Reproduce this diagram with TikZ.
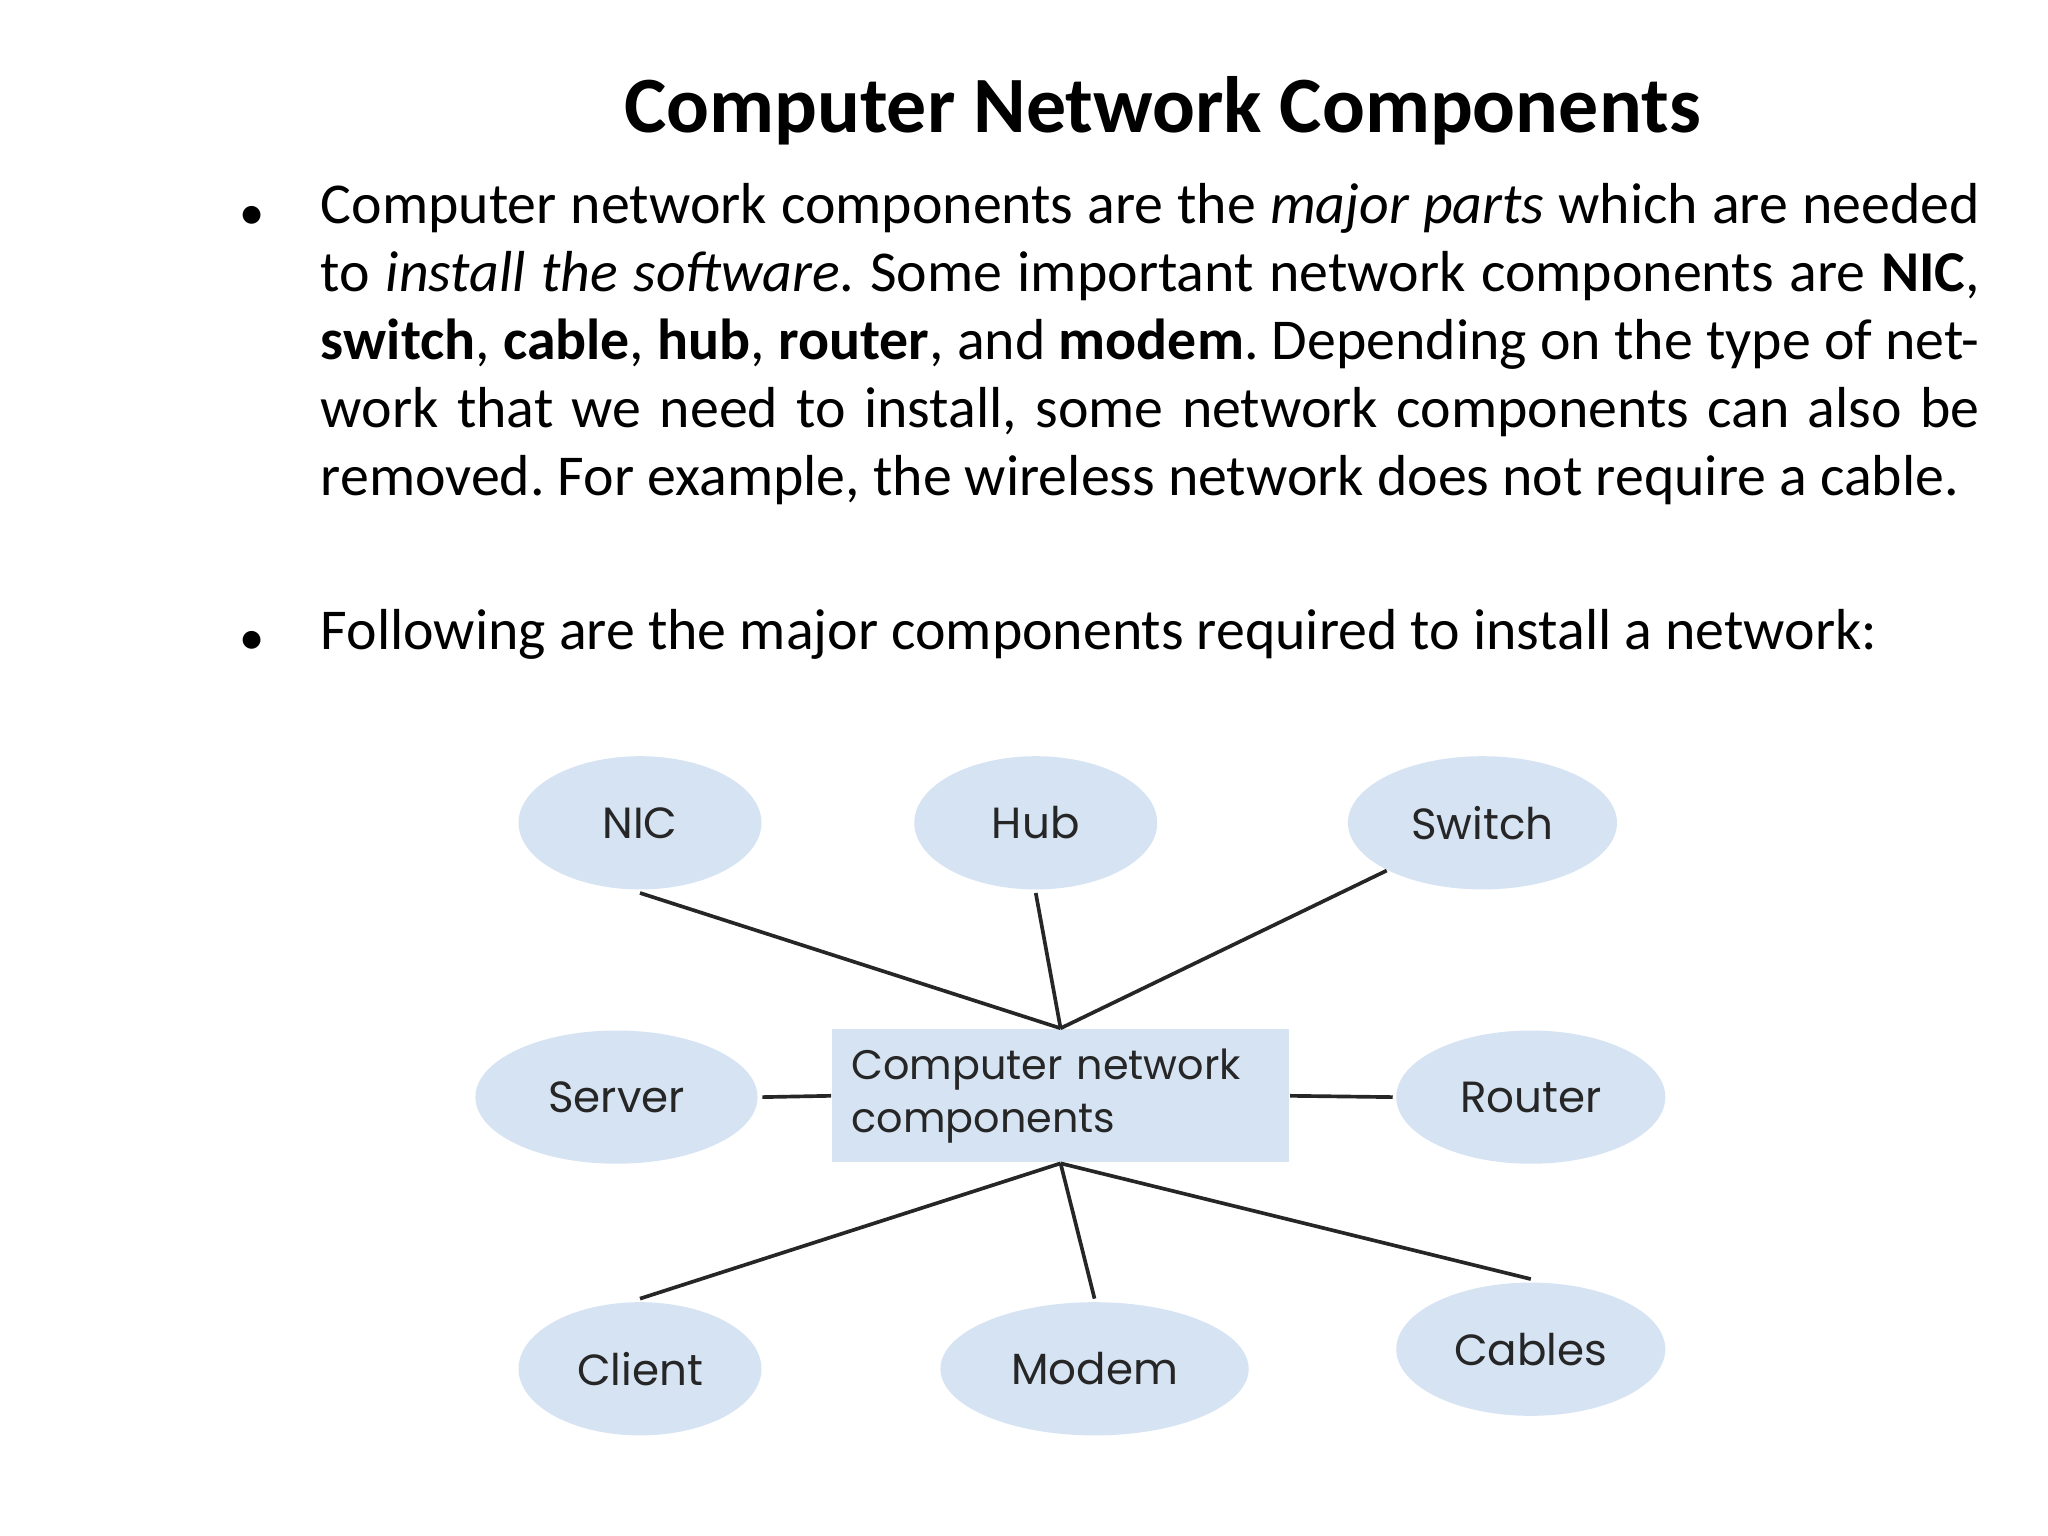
\documentclass[tikz,border=0pt]{standalone}
\usepackage{fontspec}
\setmainfont{Carlito}
\newfontfamily\diagfont{Poppins}
\usetikzlibrary{shapes.geometric,positioning}
\definecolor{bubble}{HTML}{D5E3F3}
\newcommand{\nohyph}{\hyphenpenalty=10000 \exhyphenpenalty=10000 \frenchspacing}
\begin{document}
\begin{tikzpicture}[
  comp/.style={ellipse,fill=bubble,inner sep=0pt,minimum height=1.02cm,font=\diagfont\fontsize{9.5}{11}\selectfont,text=black!85},
  hubbox/.style={rectangle,fill=bubble,text width=3.2cm,minimum height=1.02cm,inner xsep=0.15cm,align=left,font=\diagfont\fontsize{9}{11.5}\selectfont,text=black!85},
  link/.style={line width=0.8pt,black!85},
  para/.style={anchor=north west,text width=12.7cm,align=justify,inner sep=0pt,font=\fontsize{12.6}{14.8}\selectfont},
  dotmark/.style={font=\fontsize{11}{12}\selectfont}]
\useasboundingbox (0,0) rectangle (15.68,11.76);
% heading and text
\node[font=\bfseries\fontsize{17.4}{19}\selectfont] (title) at (8.9,10.91) {Computer Network Components};
\node[para] (p1) at (2.45,10.36) {\nohyph Computer network components are the \emph{major parts} which are needed to \emph{install the software}. Some important network components are \textbf{NIC}, \textbf{switch}, \textbf{cable}, \textbf{hub}, \textbf{router}, and \textbf{modem}. Depending on the type of network that we need to install, some network components can also be removed. For example, the wireless network does not require a cable.};
\node[para] (p2) at (2.45,7.10) {\nohyph Following are the major components required to install a network:};
\node[dotmark] (b1) at (1.93,10.09) {\textbullet};
\node[dotmark] (b2) at (1.93,6.84) {\textbullet};
% diagram
\node[hubbox] (net) at (8.12,3.37) {Computer network\\components};
\node[comp,minimum width=1.86cm] (nic) at (4.90,5.46) {NIC};
\node[comp,minimum width=1.86cm] (hub) at (7.93,5.46) {Hub};
\node[comp,minimum width=2.06cm] (switch) at (11.35,5.46) {Switch};
\node[comp,minimum width=2.16cm] (server) at (4.72,3.36) {Server};
\node[comp,minimum width=2.06cm] (router) at (11.72,3.36) {Router};
\node[comp,minimum width=1.86cm] (client) at (4.90,1.28) {Client};
\node[comp,minimum width=2.36cm] (modem) at (8.38,1.28) {Modem};
\node[comp,minimum width=2.06cm] (cables) at (11.72,1.43) {Cables};
\coordinate (top) at (net.north);
\coordinate (bot) at (net.south);
\draw[link] (top) -- ([yshift=-0.02cm]nic.south);
\draw[link] (top) -- ([yshift=-0.02cm]hub.south);
\draw[link] (top) -- (switch.south west);
\draw[link] (net.west) -- ([xshift=0.03cm]server.east);
\draw[link] (net.east) -- ([xshift=-0.02cm]router.west);
\draw[link] (bot) -- ([yshift=0.02cm]client.north);
\draw[link] (bot) -- ([yshift=0.02cm]modem.north);
\draw[link] (bot) -- ([yshift=0.02cm]cables.north);
\end{tikzpicture}
\end{document}
